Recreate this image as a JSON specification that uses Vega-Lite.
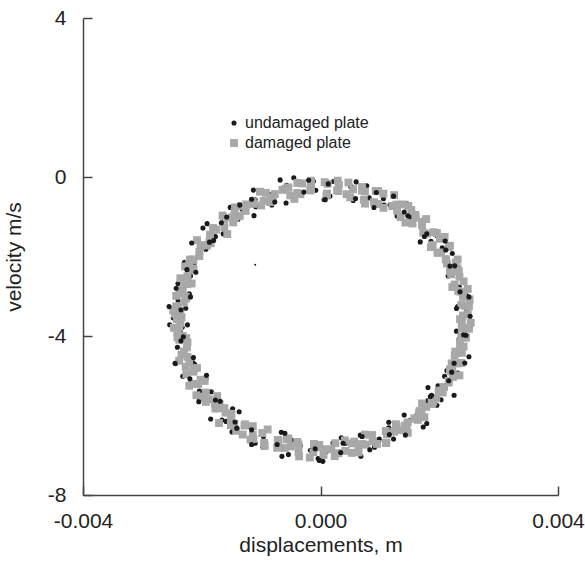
{
"$schema": "https://vega.github.io/schema/vega-lite/v6.json",
"width": 475, "height": 477,
"autosize": {"type": "none"},
"padding": {"left": 83, "top": 18, "right": 27, "bottom": 71},
"background": "white",
"config": {
  "view": {"stroke": null},
  "font": "Liberation Sans",
  "axis": {"grid": false, "domainColor": "#444", "domainWidth": 1.5, "tickColor": "#444", "tickWidth": 1.5, "tickSize": -9, "labelFontSize": 21, "labelColor": "#222", "titleFontSize": 21, "titleFontWeight": "normal", "titleColor": "#222", "labelFlush": false}
},
"layer": [
{
"data": {"values": [
{"x":0.00252,"y":-3.78,"p":"undamaged plate"},
{"x":0.00231,"y":-3.256,"p":"undamaged plate"},
{"x":0.00246,"y":-3.332,"p":"undamaged plate"},
{"x":0.00234,"y":-2.86,"p":"undamaged plate"},
{"x":0.00253,"y":-3.137,"p":"undamaged plate"},
{"x":0.00234,"y":-2.767,"p":"undamaged plate"},
{"x":0.00246,"y":-2.986,"p":"undamaged plate"},
{"x":0.00217,"y":-2.359,"p":"undamaged plate"},
{"x":0.00234,"y":-2.411,"p":"undamaged plate"},
{"x":0.00215,"y":-2.488,"p":"undamaged plate"},
{"x":0.00222,"y":-1.925,"p":"undamaged plate"},
{"x":0.00229,"y":-2.148,"p":"undamaged plate"},
{"x":0.00205,"y":-1.78,"p":"undamaged plate"},
{"x":0.00213,"y":-2.039,"p":"undamaged plate"},
{"x":0.00186,"y":-1.617,"p":"undamaged plate"},
{"x":0.00194,"y":-1.373,"p":"undamaged plate"},
{"x":0.00196,"y":-1.469,"p":"undamaged plate"},
{"x":0.00168,"y":-1.633,"p":"undamaged plate"},
{"x":0.00176,"y":-1.447,"p":"undamaged plate"},
{"x":0.00158,"y":-0.97,"p":"undamaged plate"},
{"x":0.00171,"y":-1.092,"p":"undamaged plate"},
{"x":0.00146,"y":-0.675,"p":"undamaged plate"},
{"x":0.00151,"y":-1.007,"p":"undamaged plate"},
{"x":0.00117,"y":-0.70,"p":"undamaged plate"},
{"x":0.00129,"y":-0.982,"p":"undamaged plate"},
{"x":0.00105,"y":-0.426,"p":"undamaged plate"},
{"x":0.00106,"y":-0.549,"p":"undamaged plate"},
{"x":0.00107,"y":-0.704,"p":"undamaged plate"},
{"x":0.00078,"y":-0.219,"p":"undamaged plate"},
{"x":0.00082,"y":-0.526,"p":"undamaged plate"},
{"x":0.00051,"y":-0.243,"p":"undamaged plate"},
{"x":0.00055,"y":-0.592,"p":"undamaged plate"},
{"x":0.00053,"y":-0.26,"p":"undamaged plate"},
{"x":0.00022,"y":-0.112,"p":"undamaged plate"},
{"x":0.00027,"y":-0.303,"p":"undamaged plate"},
{"x":0.00006,"y":-0.567,"p":"undamaged plate"},
{"x":0.00016,"y":-0.48,"p":"undamaged plate"},
{"x":-0.00012,"y":-0.107,"p":"undamaged plate"},
{"x":-0.00008,"y":-0.333,"p":"undamaged plate"},
{"x":-0.00045,"y":-0.022,"p":"undamaged plate"},
{"x":-0.00034,"y":-0.46,"p":"undamaged plate"},
{"x":-0.00059,"y":-0.262,"p":"undamaged plate"},
{"x":-0.00058,"y":-0.653,"p":"undamaged plate"},
{"x":-0.00057,"y":-0.206,"p":"undamaged plate"},
{"x":-0.00086,"y":-0.439,"p":"undamaged plate"},
{"x":-0.00082,"y":-0.704,"p":"undamaged plate"},
{"x":-0.00113,"y":-0.329,"p":"undamaged plate"},
{"x":-0.00109,"y":-0.746,"p":"undamaged plate"},
{"x":-0.00110,"y":-0.572,"p":"undamaged plate"},
{"x":-0.00140,"y":-1.03,"p":"undamaged plate"},
{"x":-0.00132,"y":-0.807,"p":"undamaged plate"},
{"x":-0.00152,"y":-0.765,"p":"undamaged plate"},
{"x":-0.00139,"y":-1.062,"p":"undamaged plate"},
{"x":-0.00164,"y":-1.43,"p":"undamaged plate"},
{"x":-0.00157,"y":-1.447,"p":"undamaged plate"},
{"x":-0.00191,"y":-1.173,"p":"undamaged plate"},
{"x":-0.00177,"y":-1.499,"p":"undamaged plate"},
{"x":-0.00198,"y":-1.283,"p":"undamaged plate"},
{"x":-0.00193,"y":-1.817,"p":"undamaged plate"},
{"x":-0.00188,"y":-1.709,"p":"undamaged plate"},
{"x":-0.00213,"y":-2.19,"p":"undamaged plate"},
{"x":-0.00204,"y":-1.828,"p":"undamaged plate"},
{"x":-0.00229,"y":-2.145,"p":"undamaged plate"},
{"x":-0.00219,"y":-2.488,"p":"undamaged plate"},
{"x":-0.00215,"y":-2.191,"p":"undamaged plate"},
{"x":-0.00240,"y":-2.679,"p":"undamaged plate"},
{"x":-0.00227,"y":-2.576,"p":"undamaged plate"},
{"x":-0.00240,"y":-3.097,"p":"undamaged plate"},
{"x":-0.00221,"y":-2.937,"p":"undamaged plate"},
{"x":-0.00240,"y":-2.95,"p":"undamaged plate"},
{"x":-0.00227,"y":-3.302,"p":"undamaged plate"},
{"x":-0.00254,"y":-3.716,"p":"undamaged plate"},
{"x":-0.00233,"y":-3.78,"p":"undamaged plate"},
{"x":-0.00248,"y":-3.544,"p":"undamaged plate"},
{"x":-0.00236,"y":-3.908,"p":"undamaged plate"},
{"x":-0.00224,"y":-3.72,"p":"undamaged plate"},
{"x":-0.00241,"y":-4.283,"p":"undamaged plate"},
{"x":-0.00225,"y":-4.193,"p":"undamaged plate"},
{"x":-0.00244,"y":-4.694,"p":"undamaged plate"},
{"x":-0.00227,"y":-4.341,"p":"undamaged plate"},
{"x":-0.00215,"y":-4.669,"p":"undamaged plate"},
{"x":-0.00232,"y":-5.012,"p":"undamaged plate"},
{"x":-0.00212,"y":-4.715,"p":"undamaged plate"},
{"x":-0.00219,"y":-5.192,"p":"undamaged plate"},
{"x":-0.00193,"y":-5.08,"p":"undamaged plate"},
{"x":-0.00204,"y":-5.581,"p":"undamaged plate"},
{"x":-0.00184,"y":-5.403,"p":"undamaged plate"},
{"x":-0.00204,"y":-5.387,"p":"undamaged plate"},
{"x":-0.00177,"y":-5.711,"p":"undamaged plate"},
{"x":-0.00185,"y":-6.087,"p":"undamaged plate"},
{"x":-0.00166,"y":-6.113,"p":"undamaged plate"},
{"x":-0.00148,"y":-5.83,"p":"undamaged plate"},
{"x":-0.00159,"y":-6.148,"p":"undamaged plate"},
{"x":-0.00137,"y":-5.905,"p":"undamaged plate"},
{"x":-0.00149,"y":-6.413,"p":"undamaged plate"},
{"x":-0.00127,"y":-6.26,"p":"undamaged plate"},
{"x":-0.00110,"y":-6.698,"p":"undamaged plate"},
{"x":-0.00122,"y":-6.274,"p":"undamaged plate"},
{"x":-0.00096,"y":-6.531,"p":"undamaged plate"},
{"x":-0.00097,"y":-6.796,"p":"undamaged plate"},
{"x":-0.00066,"y":-6.421,"p":"undamaged plate"},
{"x":-0.00073,"y":-6.814,"p":"undamaged plate"},
{"x":-0.00049,"y":-6.617,"p":"undamaged plate"},
{"x":-0.00065,"y":-7.028,"p":"undamaged plate"},
{"x":-0.00034,"y":-6.76,"p":"undamaged plate"},
{"x":-0.00039,"y":-6.648,"p":"undamaged plate"},
{"x":-0.00017,"y":-6.877,"p":"undamaged plate"},
{"x":0.00004,"y":-7.153,"p":"undamaged plate"},
{"x":-0.00004,"y":-7.08,"p":"undamaged plate"},
{"x":0.00021,"y":-6.693,"p":"undamaged plate"},
{"x":0.00010,"y":-6.907,"p":"undamaged plate"},
{"x":0.00035,"y":-6.558,"p":"undamaged plate"},
{"x":0.00053,"y":-6.96,"p":"undamaged plate"},
{"x":0.00042,"y":-6.698,"p":"undamaged plate"},
{"x":0.00068,"y":-7.027,"p":"undamaged plate"},
{"x":0.00067,"y":-6.494,"p":"undamaged plate"},
{"x":0.00098,"y":-6.641,"p":"undamaged plate"},
{"x":0.00091,"y":-6.796,"p":"undamaged plate"},
{"x":0.00115,"y":-6.311,"p":"undamaged plate"},
{"x":0.00099,"y":-6.594,"p":"undamaged plate"},
{"x":0.00129,"y":-6.288,"p":"undamaged plate"},
{"x":0.00123,"y":-6.59,"p":"undamaged plate"},
{"x":0.00142,"y":-6.213,"p":"undamaged plate"},
{"x":0.00162,"y":-5.995,"p":"undamaged plate"},
{"x":0.00151,"y":-6.118,"p":"undamaged plate"},
{"x":0.00173,"y":-6.29,"p":"undamaged plate"},
{"x":0.00159,"y":-6.113,"p":"undamaged plate"},
{"x":0.00181,"y":-5.627,"p":"undamaged plate"},
{"x":0.00196,"y":-5.741,"p":"undamaged plate"},
{"x":0.00181,"y":-5.297,"p":"undamaged plate"},
{"x":0.00203,"y":-5.603,"p":"undamaged plate"},
{"x":0.00198,"y":-5.251,"p":"undamaged plate"},
{"x":0.00225,"y":-5.49,"p":"undamaged plate"},
{"x":0.00213,"y":-4.872,"p":"undamaged plate"},
{"x":0.00231,"y":-4.935,"p":"undamaged plate"},
{"x":0.00209,"y":-5.012,"p":"undamaged plate"},
{"x":0.00234,"y":-4.449,"p":"undamaged plate"},
{"x":0.00223,"y":-4.661,"p":"undamaged plate"},
{"x":0.00237,"y":-4.284,"p":"undamaged plate"},
{"x":0.00250,"y":-4.523,"p":"undamaged plate"},
{"x":0.00233,"y":-4.083,"p":"undamaged plate"},
{"x":0.00249,"y":-3.81,"p":"undamaged plate"},
{"x":0.00229,"y":-3.878,"p":"undamaged plate"},
{"x":0.00244,"y":-4.004,"p":"undamaged plate"},
{"x":0.00248,"y":-3.45,"p":"damaged plate"},
{"x":0.00235,"y":-3.576,"p":"damaged plate"},
{"x":0.00244,"y":-3.242,"p":"damaged plate"},
{"x":0.00237,"y":-3.22,"p":"damaged plate"},
{"x":0.00248,"y":-2.817,"p":"damaged plate"},
{"x":0.00236,"y":-2.887,"p":"damaged plate"},
{"x":0.00241,"y":-2.626,"p":"damaged plate"},
{"x":0.00222,"y":-2.769,"p":"damaged plate"},
{"x":0.00231,"y":-2.301,"p":"damaged plate"},
{"x":0.00218,"y":-2.368,"p":"damaged plate"},
{"x":0.00228,"y":-2.155,"p":"damaged plate"},
{"x":0.00213,"y":-2.178,"p":"damaged plate"},
{"x":0.00216,"y":-1.76,"p":"damaged plate"},
{"x":0.00197,"y":-1.909,"p":"damaged plate"},
{"x":0.00201,"y":-1.557,"p":"damaged plate"},
{"x":0.00189,"y":-1.713,"p":"damaged plate"},
{"x":0.00196,"y":-1.409,"p":"damaged plate"},
{"x":0.00179,"y":-1.423,"p":"damaged plate"},
{"x":0.00178,"y":-1.057,"p":"damaged plate"},
{"x":0.00155,"y":-1.17,"p":"damaged plate"},
{"x":0.00160,"y":-0.952,"p":"damaged plate"},
{"x":0.00143,"y":-1.145,"p":"damaged plate"},
{"x":0.00148,"y":-0.727,"p":"damaged plate"},
{"x":0.00129,"y":-0.85,"p":"damaged plate"},
{"x":0.00128,"y":-0.692,"p":"damaged plate"},
{"x":0.00106,"y":-0.776,"p":"damaged plate"},
{"x":0.00106,"y":-0.419,"p":"damaged plate"},
{"x":0.00090,"y":-0.634,"p":"damaged plate"},
{"x":0.00093,"y":-0.349,"p":"damaged plate"},
{"x":0.00073,"y":-0.576,"p":"damaged plate"},
{"x":0.00070,"y":-0.343,"p":"damaged plate"},
{"x":0.00044,"y":-0.432,"p":"damaged plate"},
{"x":0.00047,"y":-0.14,"p":"damaged plate"},
{"x":0.00028,"y":-0.332,"p":"damaged plate"},
{"x":0.00031,"y":-0.193,"p":"damaged plate"},
{"x":0.00010,"y":-0.467,"p":"damaged plate"},
{"x":0.00007,"y":-0.13,"p":"damaged plate"},
{"x":-0.00017,"y":-0.337,"p":"damaged plate"},
{"x":-0.00017,"y":-0.263,"p":"damaged plate"},
{"x":-0.00034,"y":-0.432,"p":"damaged plate"},
{"x":-0.00031,"y":-0.16,"p":"damaged plate"},
{"x":-0.00051,"y":-0.462,"p":"damaged plate"},
{"x":-0.00054,"y":-0.263,"p":"damaged plate"},
{"x":-0.00080,"y":-0.576,"p":"damaged plate"},
{"x":-0.00077,"y":-0.429,"p":"damaged plate"},
{"x":-0.00096,"y":-0.604,"p":"damaged plate"},
{"x":-0.00092,"y":-0.399,"p":"damaged plate"},
{"x":-0.00113,"y":-0.676,"p":"damaged plate"},
{"x":-0.00114,"y":-0.622,"p":"damaged plate"},
{"x":-0.00136,"y":-0.98,"p":"damaged plate"},
{"x":-0.00134,"y":-0.727,"p":"damaged plate"},
{"x":-0.00149,"y":-1.015,"p":"damaged plate"},
{"x":-0.00144,"y":-1.022,"p":"damaged plate"},
{"x":-0.00162,"y":-1.27,"p":"damaged plate"},
{"x":-0.00162,"y":-1.077,"p":"damaged plate"},
{"x":-0.00186,"y":-1.453,"p":"damaged plate"},
{"x":-0.00180,"y":-1.329,"p":"damaged plate"},
{"x":-0.00195,"y":-1.713,"p":"damaged plate"},
{"x":-0.00187,"y":-1.637,"p":"damaged plate"},
{"x":-0.00204,"y":-1.879,"p":"damaged plate"},
{"x":-0.00202,"y":-1.74,"p":"damaged plate"},
{"x":-0.00220,"y":-2.078,"p":"damaged plate"},
{"x":-0.00214,"y":-2.085,"p":"damaged plate"},
{"x":-0.00224,"y":-2.498,"p":"damaged plate"},
{"x":-0.00215,"y":-2.301,"p":"damaged plate"},
{"x":-0.00229,"y":-2.639,"p":"damaged plate"},
{"x":-0.00225,"y":-2.696,"p":"damaged plate"},
{"x":-0.00243,"y":-2.987,"p":"damaged plate"},
{"x":-0.00232,"y":-2.837,"p":"damaged plate"},
{"x":-0.00243,"y":-3.25,"p":"damaged plate"},
{"x":-0.00230,"y":-3.162,"p":"damaged plate"},
{"x":-0.00242,"y":-3.576,"p":"damaged plate"},
{"x":-0.00234,"y":-3.53,"p":"damaged plate"},
{"x":-0.00247,"y":-3.794,"p":"damaged plate"},
{"x":-0.00236,"y":-3.678,"p":"damaged plate"},
{"x":-0.00241,"y":-4.03,"p":"damaged plate"},
{"x":-0.00226,"y":-4.053,"p":"damaged plate"},
{"x":-0.00234,"y":-4.473,"p":"damaged plate"},
{"x":-0.00225,"y":-4.284,"p":"damaged plate"},
{"x":-0.00238,"y":-4.621,"p":"damaged plate"},
{"x":-0.00221,"y":-4.679,"p":"damaged plate"},
{"x":-0.00226,"y":-4.962,"p":"damaged plate"},
{"x":-0.00208,"y":-4.805,"p":"damaged plate"},
{"x":-0.00215,"y":-5.202,"p":"damaged plate"},
{"x":-0.00202,"y":-5.10,"p":"damaged plate"},
{"x":-0.00209,"y":-5.491,"p":"damaged plate"},
{"x":-0.00193,"y":-5.423,"p":"damaged plate"},
{"x":-0.00193,"y":-5.657,"p":"damaged plate"},
{"x":-0.00174,"y":-5.511,"p":"damaged plate"},
{"x":-0.00177,"y":-5.827,"p":"damaged plate"},
{"x":-0.00162,"y":-5.813,"p":"damaged plate"},
{"x":-0.00171,"y":-6.19,"p":"damaged plate"},
{"x":-0.00150,"y":-5.958,"p":"damaged plate"},
{"x":-0.00151,"y":-6.245,"p":"damaged plate"},
{"x":-0.00128,"y":-6.253,"p":"damaged plate"},
{"x":-0.00131,"y":-6.48,"p":"damaged plate"},
{"x":-0.00114,"y":-6.268,"p":"damaged plate"},
{"x":-0.00118,"y":-6.604,"p":"damaged plate"},
{"x":-0.00098,"y":-6.441,"p":"damaged plate"},
{"x":-0.00094,"y":-6.766,"p":"damaged plate"},
{"x":-0.00071,"y":-6.631,"p":"damaged plate"},
{"x":-0.00071,"y":-6.794,"p":"damaged plate"},
{"x":-0.00054,"y":-6.577,"p":"damaged plate"},
{"x":-0.00060,"y":-6.818,"p":"damaged plate"},
{"x":-0.00037,"y":-6.73,"p":"damaged plate"},
{"x":-0.00036,"y":-7.028,"p":"damaged plate"},
{"x":-0.00011,"y":-6.717,"p":"damaged plate"},
{"x":-0.00012,"y":-6.923,"p":"damaged plate"},
{"x":0.00007,"y":-6.85,"p":"damaged plate"},
{"x":0.00005,"y":-6.993,"p":"damaged plate"},
{"x":0.00025,"y":-6.697,"p":"damaged plate"},
{"x":0.00030,"y":-6.948,"p":"damaged plate"},
{"x":0.00053,"y":-6.70,"p":"damaged plate"},
{"x":0.00053,"y":-6.938,"p":"damaged plate"},
{"x":0.00070,"y":-6.717,"p":"damaged plate"},
{"x":0.00064,"y":-6.794,"p":"damaged plate"},
{"x":0.00087,"y":-6.491,"p":"damaged plate"},
{"x":0.00088,"y":-6.646,"p":"damaged plate"},
{"x":0.00112,"y":-6.471,"p":"damaged plate"},
{"x":0.00111,"y":-6.684,"p":"damaged plate"},
{"x":0.00128,"y":-6.288,"p":"damaged plate"},
{"x":0.00124,"y":-6.41,"p":"damaged plate"},
{"x":0.00142,"y":-6.253,"p":"damaged plate"},
{"x":0.00145,"y":-6.315,"p":"damaged plate"},
{"x":0.00166,"y":-5.938,"p":"damaged plate"},
{"x":0.00164,"y":-6.11,"p":"damaged plate"},
{"x":0.00178,"y":-5.783,"p":"damaged plate"},
{"x":0.00170,"y":-5.947,"p":"damaged plate"},
{"x":0.00190,"y":-5.651,"p":"damaged plate"},
{"x":0.00187,"y":-5.657,"p":"damaged plate"},
{"x":0.00207,"y":-5.283,"p":"damaged plate"},
{"x":0.00202,"y":-5.371,"p":"damaged plate"},
{"x":0.00216,"y":-5.13,"p":"damaged plate"},
{"x":0.00208,"y":-5.282,"p":"damaged plate"},
{"x":0.00222,"y":-4.825,"p":"damaged plate"},
{"x":0.00220,"y":-4.892,"p":"damaged plate"},
{"x":0.00237,"y":-4.679,"p":"damaged plate"},
{"x":0.00231,"y":-4.691,"p":"damaged plate"},
{"x":0.00241,"y":-4.264,"p":"damaged plate"},
{"x":0.00227,"y":-4.393,"p":"damaged plate"},
{"x":0.00242,"y":-4.023,"p":"damaged plate"},
{"x":0.00235,"y":-4.15,"p":"damaged plate"},
{"x":0.00250,"y":-3.818,"p":"damaged plate"},
{"x":0.00240,"y":-3.794,"p":"damaged plate"},
{"x":0.00238,"y":-3.67,"p":"damaged plate"},
{"x":0.00250,"y":-3.256,"p":"damaged plate"},
{"x":0.00240,"y":-3.482,"p":"damaged plate"},
{"x":0.00251,"y":-3.08,"p":"damaged plate"},
{"x":0.00232,"y":-2.867,"p":"damaged plate"},
{"x":0.00240,"y":-3.017,"p":"damaged plate"},
{"x":0.00226,"y":-2.706,"p":"damaged plate"},
{"x":0.00233,"y":-2.369,"p":"damaged plate"},
{"x":0.00234,"y":-2.511,"p":"damaged plate"},
{"x":0.00220,"y":-2.448,"p":"damaged plate"},
{"x":0.00231,"y":-2.075,"p":"damaged plate"},
{"x":0.00211,"y":-2.068,"p":"damaged plate"},
{"x":0.00218,"y":-1.73,"p":"damaged plate"},
{"x":0.00203,"y":-1.899,"p":"damaged plate"},
{"x":0.00209,"y":-1.507,"p":"damaged plate"},
{"x":0.00186,"y":-1.763,"p":"damaged plate"},
{"x":0.00190,"y":-1.389,"p":"damaged plate"},
{"x":0.00171,"y":-1.213,"p":"damaged plate"},
{"x":0.00173,"y":-1.397,"p":"damaged plate"},
{"x":0.00171,"y":-1.13,"p":"damaged plate"},
{"x":0.00153,"y":-0.832,"p":"damaged plate"},
{"x":0.00160,"y":-1.025,"p":"damaged plate"},
{"x":0.00135,"y":-1.007,"p":"damaged plate"},
{"x":0.00139,"y":-0.69,"p":"damaged plate"},
{"x":0.00121,"y":-0.732,"p":"damaged plate"},
{"x":0.00124,"y":-0.456,"p":"damaged plate"},
{"x":0.00097,"y":-0.679,"p":"damaged plate"},
{"x":0.00097,"y":-0.354,"p":"damaged plate"},
{"x":0.00075,"y":-0.669,"p":"damaged plate"},
{"x":0.00075,"y":-0.366,"p":"damaged plate"},
{"x":0.00070,"y":-0.253,"p":"damaged plate"},
{"x":0.00050,"y":-0.512,"p":"damaged plate"},
{"x":0.00055,"y":-0.31,"p":"damaged plate"},
{"x":0.00029,"y":-0.092,"p":"damaged plate"},
{"x":0.00030,"y":-0.353,"p":"damaged plate"},
{"x":0.00011,"y":-0.417,"p":"damaged plate"},
{"x":0.00012,"y":-0.17,"p":"damaged plate"},
{"x":-0.00016,"y":-0.297,"p":"damaged plate"},
{"x":-0.00016,"y":-0.093,"p":"damaged plate"},
{"x":-0.00039,"y":-0.402,"p":"damaged plate"},
{"x":-0.00039,"y":-0.15,"p":"damaged plate"},
{"x":-0.00044,"y":-0.552,"p":"damaged plate"},
{"x":-0.00064,"y":-0.323,"p":"damaged plate"},
{"x":-0.00059,"y":-0.296,"p":"damaged plate"},
{"x":-0.00085,"y":-0.629,"p":"damaged plate"},
{"x":-0.00083,"y":-0.514,"p":"damaged plate"},
{"x":-0.00102,"y":-0.369,"p":"damaged plate"},
{"x":-0.00100,"y":-0.716,"p":"damaged plate"},
{"x":-0.00126,"y":-0.852,"p":"damaged plate"},
{"x":-0.00125,"y":-0.69,"p":"damaged plate"},
{"x":-0.00145,"y":-0.887,"p":"damaged plate"},
{"x":-0.00144,"y":-0.765,"p":"damaged plate"},
{"x":-0.00147,"y":-1.142,"p":"damaged plate"},
{"x":-0.00165,"y":-0.97,"p":"damaged plate"},
{"x":-0.00157,"y":-1.437,"p":"damaged plate"},
{"x":-0.00181,"y":-1.283,"p":"damaged plate"},
{"x":-0.00176,"y":-1.319,"p":"damaged plate"},
{"x":-0.00191,"y":-1.723,"p":"damaged plate"},
{"x":-0.00185,"y":-1.667,"p":"damaged plate"},
{"x":-0.00208,"y":-1.589,"p":"damaged plate"},
{"x":-0.00204,"y":-1.99,"p":"damaged plate"},
{"x":-0.00221,"y":-2.188,"p":"damaged plate"},
{"x":-0.00215,"y":-2.075,"p":"damaged plate"},
{"x":-0.00214,"y":-2.328,"p":"damaged plate"},
{"x":-0.00228,"y":-2.251,"p":"damaged plate"},
{"x":-0.00217,"y":-2.679,"p":"damaged plate"},
{"x":-0.00236,"y":-2.546,"p":"damaged plate"},
{"x":-0.00226,"y":-3.057,"p":"damaged plate"},
{"x":-0.00237,"y":-2.937,"p":"damaged plate"},
{"x":-0.00227,"y":-3.01,"p":"damaged plate"},
{"x":-0.00245,"y":-3.442,"p":"damaged plate"},
{"x":-0.00236,"y":-3.416,"p":"damaged plate"},
{"x":-0.00248,"y":-3.36,"p":"damaged plate"},
{"x":-0.00238,"y":-3.784,"p":"damaged plate"},
{"x":-0.00232,"y":-3.998,"p":"damaged plate"},
{"x":-0.00241,"y":-3.90,"p":"damaged plate"},
{"x":-0.00224,"y":-4.163,"p":"damaged plate"},
{"x":-0.00238,"y":-4.093,"p":"damaged plate"},
{"x":-0.00224,"y":-4.524,"p":"damaged plate"},
{"x":-0.00230,"y":-4.391,"p":"damaged plate"},
{"x":-0.00214,"y":-4.899,"p":"damaged plate"},
{"x":-0.00227,"y":-4.772,"p":"damaged plate"},
{"x":-0.00213,"y":-4.835,"p":"damaged plate"},
{"x":-0.00221,"y":-5.252,"p":"damaged plate"},
{"x":-0.00206,"y":-5.21,"p":"damaged plate"},
{"x":-0.00195,"y":-5.131,"p":"damaged plate"},
{"x":-0.00199,"y":-5.533,"p":"damaged plate"},
{"x":-0.00178,"y":-5.717,"p":"damaged plate"},
{"x":-0.00188,"y":-5.591,"p":"damaged plate"},
{"x":-0.00169,"y":-5.817,"p":"damaged plate"},
{"x":-0.00170,"y":-5.713,"p":"damaged plate"},
{"x":-0.00151,"y":-6.10,"p":"damaged plate"},
{"x":-0.00160,"y":-5.928,"p":"damaged plate"},
{"x":-0.00142,"y":-6.385,"p":"damaged plate"},
{"x":-0.00145,"y":-6.213,"p":"damaged plate"},
{"x":-0.00127,"y":-6.22,"p":"damaged plate"},
{"x":-0.00113,"y":-6.588,"p":"damaged plate"},
{"x":-0.00114,"y":-6.484,"p":"damaged plate"},
{"x":-0.00089,"y":-6.351,"p":"damaged plate"},
{"x":-0.00095,"y":-6.686,"p":"damaged plate"},
{"x":-0.00073,"y":-6.811,"p":"damaged plate"},
{"x":-0.00072,"y":-6.614,"p":"damaged plate"},
{"x":-0.00050,"y":-6.777,"p":"damaged plate"},
{"x":-0.00057,"y":-6.598,"p":"damaged plate"},
{"x":-0.00037,"y":-6.92,"p":"damaged plate"},
{"x":-0.00039,"y":-6.668,"p":"damaged plate"},
{"x":-0.00018,"y":-7.057,"p":"damaged plate"},
{"x":-0.00003,"y":-6.803,"p":"damaged plate"},
{"x":-0.00002,"y":-6.74,"p":"damaged plate"},
{"x":0.00024,"y":-7.023,"p":"damaged plate"},
{"x":0.00018,"y":-6.847,"p":"damaged plate"},
{"x":0.00041,"y":-6.628,"p":"damaged plate"},
{"x":0.00042,"y":-6.89,"p":"damaged plate"},
{"x":0.00064,"y":-6.928,"p":"damaged plate"},
{"x":0.00057,"y":-6.657,"p":"damaged plate"},
{"x":0.00077,"y":-6.734,"p":"damaged plate"},
{"x":0.00075,"y":-6.481,"p":"damaged plate"},
{"x":0.00095,"y":-6.716,"p":"damaged plate"},
{"x":0.00110,"y":-6.391,"p":"damaged plate"},
{"x":0.00110,"y":-6.694,"p":"damaged plate"},
{"x":0.00134,"y":-6.368,"p":"damaged plate"},
{"x":0.00127,"y":-6.22,"p":"damaged plate"},
{"x":0.00147,"y":-6.433,"p":"damaged plate"},
{"x":0.00147,"y":-6.175,"p":"damaged plate"},
{"x":0.00167,"y":-5.888,"p":"damaged plate"},
{"x":0.00158,"y":-6.07,"p":"damaged plate"},
{"x":0.00175,"y":-6.043,"p":"damaged plate"},
{"x":0.00171,"y":-5.697,"p":"damaged plate"},
{"x":0.00188,"y":-5.711,"p":"damaged plate"},
{"x":0.00199,"y":-5.387,"p":"damaged plate"},
{"x":0.00195,"y":-5.563,"p":"damaged plate"},
{"x":0.00216,"y":-5.171,"p":"damaged plate"},
{"x":0.00206,"y":-5.42,"p":"damaged plate"},
{"x":0.00223,"y":-5.032,"p":"damaged plate"},
{"x":0.00218,"y":-4.835,"p":"damaged plate"},
{"x":0.00234,"y":-4.992,"p":"damaged plate"},
{"x":0.00221,"y":-4.689,"p":"damaged plate"},
{"x":0.00235,"y":-4.351,"p":"damaged plate"},
{"x":0.00226,"y":-4.494,"p":"damaged plate"},
{"x":0.00238,"y":-4.423,"p":"damaged plate"},
{"x":0.00245,"y":-4.043,"p":"damaged plate"},
{"x":0.00237,"y":-4.02,"p":"damaged plate"},
{"x":0.00253,"y":-3.668,"p":"damaged plate"},
{"x":0.00238,"y":-3.814,"p":"damaged plate"},
{"x":0.00229,"y":-3.31,"p":"undamaged plate"},
{"x":0.00252,"y":-3.502,"p":"undamaged plate"},
{"x":0.00235,"y":-2.887,"p":"undamaged plate"},
{"x":0.00250,"y":-3.016,"p":"undamaged plate"},
{"x":0.00218,"y":-2.241,"p":"undamaged plate"},
{"x":0.00226,"y":-2.235,"p":"undamaged plate"},
{"x":0.00210,"y":-1.61,"p":"undamaged plate"},
{"x":0.00211,"y":-1.837,"p":"undamaged plate"},
{"x":0.00179,"y":-1.429,"p":"undamaged plate"},
{"x":0.00175,"y":-1.497,"p":"undamaged plate"},
{"x":0.00141,"y":-0.882,"p":"undamaged plate"},
{"x":0.00147,"y":-0.977,"p":"undamaged plate"},
{"x":0.00123,"y":-0.482,"p":"undamaged plate"},
{"x":0.00090,"y":-0.769,"p":"undamaged plate"},
{"x":0.00094,"y":-0.389,"p":"undamaged plate"},
{"x":0.00060,"y":-0.123,"p":"undamaged plate"},
{"x":0.00059,"y":-0.54,"p":"undamaged plate"},
{"x":0.00013,"y":-0.173,"p":"undamaged plate"},
{"x":0.00008,"y":-0.57,"p":"undamaged plate"},
{"x":-0.00020,"y":-0.083,"p":"undamaged plate"},
{"x":-0.00028,"y":-0.38,"p":"undamaged plate"},
{"x":-0.00068,"y":-0.073,"p":"undamaged plate"},
{"x":-0.00077,"y":-0.629,"p":"undamaged plate"},
{"x":-0.00116,"y":-0.559,"p":"undamaged plate"},
{"x":-0.00112,"y":-0.972,"p":"undamaged plate"},
{"x":-0.00136,"y":-0.707,"p":"undamaged plate"},
{"x":-0.00167,"y":-1.152,"p":"undamaged plate"},
{"x":-0.00158,"y":-1.007,"p":"undamaged plate"},
{"x":-0.00187,"y":-1.639,"p":"undamaged plate"},
{"x":-0.00180,"y":-1.597,"p":"undamaged plate"},
{"x":-0.00217,"y":-1.66,"p":"undamaged plate"},
{"x":-0.00210,"y":-2.395,"p":"undamaged plate"},
{"x":-0.00225,"y":-2.331,"p":"undamaged plate"},
{"x":-0.00219,"y":-3.016,"p":"undamaged plate"},
{"x":-0.00243,"y":-2.797,"p":"undamaged plate"},
{"x":-0.00235,"y":-3.342,"p":"undamaged plate"},
{"x":-0.00255,"y":-3.26,"p":"undamaged plate"},
{"x":-0.00231,"y":-4.018,"p":"undamaged plate"},
{"x":-0.00235,"y":-4.123,"p":"undamaged plate"},
{"x":-0.00245,"y":-4.684,"p":"undamaged plate"},
{"x":-0.00214,"y":-4.539,"p":"undamaged plate"},
{"x":-0.00220,"y":-5.075,"p":"undamaged plate"},
{"x":-0.00192,"y":-4.99,"p":"undamaged plate"},
{"x":-0.00205,"y":-5.653,"p":"undamaged plate"},
{"x":-0.00177,"y":-5.611,"p":"undamaged plate"},
{"x":-0.00169,"y":-5.643,"p":"undamaged plate"},
{"x":-0.00141,"y":-6.318,"p":"undamaged plate"},
{"x":-0.00144,"y":-6.163,"p":"undamaged plate"},
{"x":-0.00116,"y":-6.728,"p":"undamaged plate"},
{"x":-0.00116,"y":-6.361,"p":"undamaged plate"},
{"x":-0.00073,"y":-6.731,"p":"undamaged plate"},
{"x":-0.00060,"y":-6.447,"p":"undamaged plate"},
{"x":-0.00054,"y":-6.98,"p":"undamaged plate"},
{"x":-0.00009,"y":-6.837,"p":"undamaged plate"},
{"x":-0.00002,"y":-7.13,"p":"undamaged plate"},
{"x":0.00038,"y":-6.697,"p":"undamaged plate"},
{"x":0.00034,"y":-6.93,"p":"undamaged plate"},
{"x":0.00070,"y":-6.527,"p":"undamaged plate"},
{"x":0.00083,"y":-6.861,"p":"undamaged plate"},
{"x":0.00116,"y":-6.481,"p":"undamaged plate"},
{"x":0.00115,"y":-6.168,"p":"undamaged plate"},
{"x":0.00143,"y":-6.493,"p":"undamaged plate"},
{"x":0.00141,"y":-5.988,"p":"undamaged plate"},
{"x":0.00179,"y":-6.203,"p":"undamaged plate"},
{"x":0.00187,"y":-5.491,"p":"undamaged plate"},
{"x":0.00185,"y":-5.523,"p":"undamaged plate"},
{"x":0.00221,"y":-4.91,"p":"undamaged plate"},
{"x":0.00216,"y":-5.125,"p":"undamaged plate"},
{"x":0.00243,"y":-4.679,"p":"undamaged plate"},
{"x":0.00225,"y":-4.684,"p":"undamaged plate"},
{"x":0.00245,"y":-3.983,"p":"undamaged plate"},
{"x":0.00241,"y":-3.968,"p":"undamaged plate"}
]},
"mark": {"type": "point", "filled": true, "opacity": 1},
"encoding": {
  "x": {"field": "x", "type": "quantitative", "scale": {"domain": [-0.004, 0.004], "nice": false, "zero": false},
        "axis": {"values": [-0.004, 0, 0.004], "format": ".3f", "labelExpr": "replace(datum.label, '\u2212', '-')", "title": "displacements, m", "labelPadding": 24, "titlePadding": 3}},
  "y": {"field": "y", "type": "quantitative", "scale": {"domain": [-8, 4], "nice": false, "zero": false},
        "axis": {"values": [-8, -4, 0, 4], "labelExpr": "replace(datum.label, '\u2212', '-')", "title": "velocity m/s", "labelPadding": 26, "titlePadding": 23}},
  "color": {"field": "p", "type": "nominal", "scale": {"domain": ["undamaged plate", "damaged plate"], "range": ["#1a1a1a", "#a8a8a8"]},
            "legend": {"orient": "none", "legendX": 143, "legendY": 97, "title": null, "labelFontSize": 16, "labelColor": "#222", "labelOffset": 3, "rowPadding": 4, "symbolStrokeWidth": 0}},
  "shape": {"field": "p", "type": "nominal", "scale": {"domain": ["undamaged plate", "damaged plate"], "range": ["circle", "square"]}},
  "size": {"field": "p", "type": "nominal", "scale": {"domain": ["undamaged plate", "damaged plate"], "range": [26, 62]}}
}
},
{
"data": {"values": [{"x": -0.0011, "y": -2.21}]},
"mark": {"type": "point", "filled": true, "size": 4, "color": "#1a1a1a", "opacity": 1},
"encoding": {"x": {"field": "x", "type": "quantitative"}, "y": {"field": "y", "type": "quantitative"}}
}
]
}
